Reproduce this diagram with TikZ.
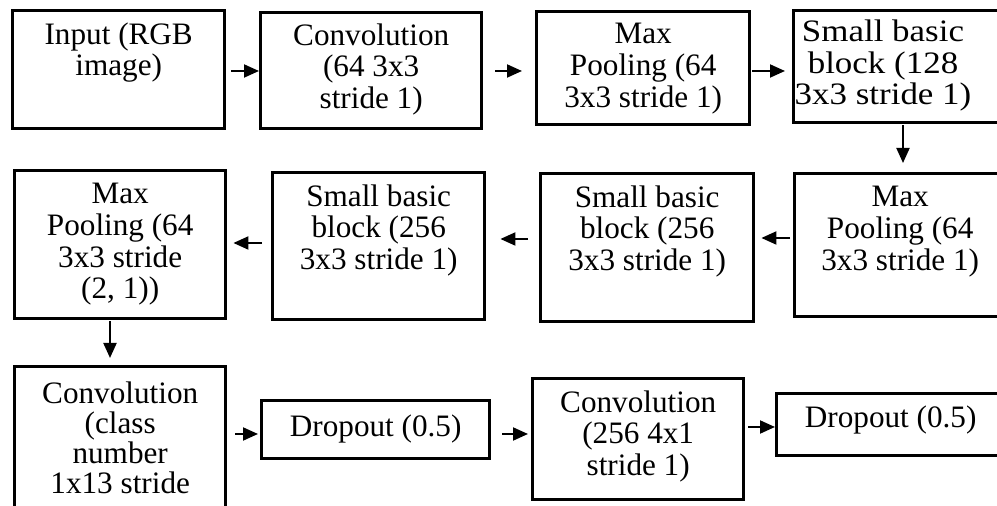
\documentclass[tikz,border=0pt]{standalone}
\usepackage{fontspec}
\setmainfont{Liberation Serif}
\usetikzlibrary{arrows.meta}

\tikzset{
  layer/.style={draw, line width=1.7pt, inner sep=0pt, anchor=north west},
  lbl/.style={anchor=north, align=center, inner sep=0pt,
              font=\fontsize{15.6pt}{15.8pt}\selectfont},
  flow/.style={line width=1pt, -{Triangle[length=7.5pt, width=6.5pt]}}
}

\begin{document}
\begin{tikzpicture}[x=0.5pt, y=-0.5pt]
  \useasboundingbox (0,0) rectangle (997,506);
  \clip (0,0) rectangle (997,506);
  \fill[white] (0,0) rectangle (997,506);

  % first row
  \node[layer, minimum width=106pt,   minimum height=59pt]   (A) at (11,9)   {};
  \node[layer, minimum width=110.5pt, minimum height=58pt]   (B) at (259,11) {};
  \node[layer, minimum width=106.5pt, minimum height=56.5pt] (C) at (535,10) {};
  \node[layer, minimum width=106pt,   minimum height=56pt]   (D) at (792,9)  {};

  % second row
  \node[layer, minimum width=105.5pt, minimum height=74pt]   (E) at (13,169)  {};
  \node[layer, minimum width=106pt,   minimum height=73.5pt] (F) at (271,171) {};
  \node[layer, minimum width=106.5pt, minimum height=74pt]   (G) at (539,172) {};
  \node[layer, minimum width=105.5pt, minimum height=71.5pt] (H) at (793,172) {};

  % third row
  \node[layer, minimum width=105.5pt, minimum height=90pt]   (I) at (13,365)  {};
  \node[layer, minimum width=114pt,   minimum height=29pt]   (J) at (260,399) {};
  \node[layer, minimum width=105.5pt, minimum height=60.5pt] (K) at (531,377) {};
  \node[layer, minimum width=114pt,   minimum height=31pt]   (L) at (775,392) {};

  % labels
  \node[lbl] (At) at ([yshift=-6.5pt]A.north) {Input (RGB\\image)};
  \node[lbl] (Bt) at ([yshift=-6pt]B.north) {Convolution\\(64 3x3\\stride 1)};
  \node[lbl] (Ct) at ([yshift=-6.5pt]C.north) {Max\\Pooling (64\\3x3 stride 1)};
  \node[lbl] (Dt) at ([xshift=45.5pt, yshift=-5pt]D.north west)
    {\scalebox{1.12}[1]{\begin{tabular}{@{}c@{}}Small basic\\block (128\\3x3 stride 1)\end{tabular}}};
  \node[lbl] (Et) at ([yshift=-7pt]E.north) {Max\\Pooling (64\\3x3 stride\\(2, 1))};
  \node[lbl] (Ft) at ([yshift=-6.5pt]F.north) {Small basic\\block (256\\3x3 stride 1)};
  \node[lbl] (Gt) at ([yshift=-6.5pt]G.north) {Small basic\\block (256\\3x3 stride 1)};
  \node[lbl] (Ht) at ([yshift=-7pt]H.north) {Max\\Pooling (64\\3x3 stride 1)};
  \node[lbl, font=\fontsize{15.6pt}{15pt}\selectfont] (It) at ([yshift=-8pt]I.north)
    {Convolution\\(class\\number\\1x13 stride};
  \node[lbl] (Jt) at ([yshift=-7.5pt]J.north) {Dropout (0.5)};
  \node[lbl] (Kt) at ([yshift=-6.5pt]K.north) {Convolution\\(256 4x1\\stride 1)};
  \node[lbl] (Lt) at ([yshift=-6.5pt]L.north) {Dropout (0.5)};

  % connectors
  \draw[flow, shorten <=2.5pt]                 (A.east |- 0,71)  -- (B.west |- 0,71);
  \draw[flow, shorten <=6pt,   shorten >=6.5pt] (B.east |- 0,71)  -- (C.west |- 0,71);
  \draw[flow, shorten <=0.5pt, shorten >=3.5pt] (C.east |- 0,71)  -- (D.west |- 0,71);
  \draw[flow, shorten <=0.5pt, shorten >=4.5pt] (903,0 |- D.south) -- (903,0 |- H.north);
  \draw[flow, shorten <=1.5pt, shorten >=3pt]   (H.west |- 0,238) -- (G.east |- 0,238);
  \draw[flow, shorten <=5.5pt, shorten >=7pt]   (G.west |- 0,239) -- (F.east |- 0,239);
  \draw[flow, shorten <=4.5pt, shorten >=3pt]   (F.west |- 0,243) -- (E.east |- 0,243);
  \draw[flow, shorten <=0.5pt, shorten >=3.5pt] (110,0 |- E.south) -- (110,0 |- I.north);
  \draw[flow, shorten <=4pt,   shorten >=1pt]   (I.east |- 0,434) -- (J.west |- 0,434);
  \draw[flow, shorten <=5.5pt, shorten >=1.5pt] (J.east |- 0,434) -- (K.west |- 0,434);
  \draw[flow, shorten <=1.5pt]                  (K.east |- 0,427) -- (L.west |- 0,427);
\end{tikzpicture}
\end{document}
